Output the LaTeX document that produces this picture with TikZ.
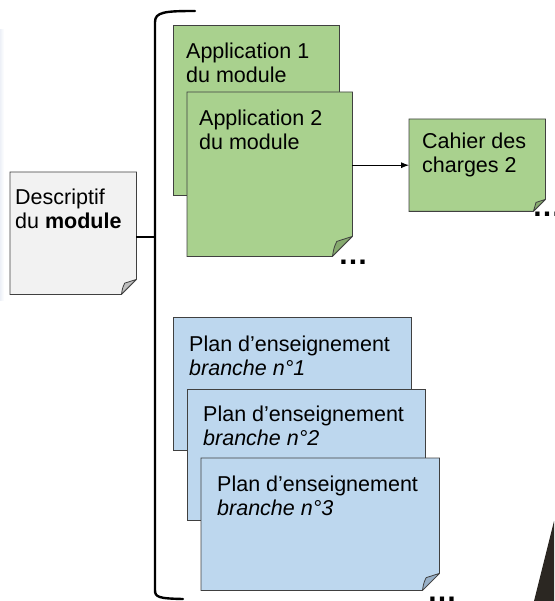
\documentclass[tikz,border=0pt]{standalone}
\usepackage{fontspec}
\setmainfont{Liberation Sans}
\usetikzlibrary{arrows.meta,calc}
\definecolor{edge}{HTML}{404040}
\definecolor{pgreen}{HTML}{A9D18E}
\definecolor{pgreenD}{HTML}{86AA6E}
\definecolor{pblue}{HTML}{BDD7EE}
\definecolor{pblueD}{HTML}{98B0C8}
\definecolor{pgray}{HTML}{F2F2F2}
\definecolor{pgrayD}{HTML}{BFBFBF}
\definecolor{darkcorner}{HTML}{2B2722}
\definecolor{edgeglow}{HTML}{EDF0F7}
\tikzset{
  sheet/.style={draw=edge, line width=0.8pt, inner sep=0pt, anchor=north west},
  ghost/.style={inner sep=0pt, anchor=north west},
  txt/.style={font=\fontsize{21.5}{24}\selectfont, align=left, inner sep=0pt, anchor=base west, text=black},
  dotsstyle/.style={font=\bfseries\fontsize{30}{30}\selectfont, inner sep=0pt, text=black},
  bracketline/.style={line width=2.4pt, black, line cap=round},
  linkline/.style={line width=2pt, black},
  arrowline/.style={line width=0.8pt, black, -{Latex[length=8pt,width=6pt]}}
}
\newcommand\foldsheet[4]{%
  \filldraw[draw=edge, line width=0.8pt, fill=#2] (#1.north west) -- (#1.north east) -- ([yshift=#4]#1.south east) -- ([xshift=-#4]#1.south east) -- (#1.south west) -- cycle;
  \filldraw[draw=edge, line width=0.8pt, fill=#3, line join=round] ([xshift=-#4]#1.south east) .. controls ([xshift=-0.92*#4, yshift=0.45*#4]#1.south east) .. ([xshift=-0.78*#4,yshift=0.75*#4]#1.south east) -- ([yshift=#4]#1.south east) -- cycle;
}
\begin{document}
\begin{tikzpicture}[x=1pt,y=-1pt]
\useasboundingbox (0,0) rectangle (554,601);
\shade[left color=edgeglow, right color=white] (0,30) rectangle (4,300);
\fill[darkcorner] (554,521) -- (554,601) -- (534,601) -- cycle;

% bracket
\coordinate (brk) at (155,237);
\draw[bracketline] (195,11) .. controls (165,11) and (155,12) .. (155,22) -- (155,590) .. controls (155,597) and (158,598.5) .. (183,599);

% descriptif
\node[ghost, minimum width=126pt, minimum height=122pt] (desc) at (10,172) {};
\foldsheet{desc}{pgray}{pgrayD}{15pt}
\node[txt] (desct) at (15,229) {Descriptif\\du \textbf{module}};
\draw[linkline] (desc.east |- brk) -- (brk);

% applications
\node[sheet, fill=pgreen, minimum width=166pt, minimum height=170pt] (app1) at (173,25) {};
\node[txt] (app1t) at (186,83) {Application 1\\du module};
\node[ghost, minimum width=165pt, minimum height=164pt] (app2) at (187,92) {};
\foldsheet{app2}{pgreen}{pgreenD}{20pt}
\node[txt] (app2t) at (199,150) {Application 2\\du module};
\node[dotsstyle] (dots1) at (353,262) {…};

% cahier
\node[ghost, minimum width=136pt, minimum height=92pt] (cahier) at (409,119) {};
\foldsheet{cahier}{pgreen}{pgreenD}{12pt}
\node[txt] (cahiert) at (422,172.5) {Cahier des\\charges 2};
\node[dotsstyle] (dots2) at (547,214) {…};
\draw[arrowline] (app2.east |- cahier.west) -- (cahier.west);

% plans
\node[sheet, fill=pblue, minimum width=238pt, minimum height=133pt] (plan1) at (173,317) {};
\node[txt] (plan1t) at (189,375) {Plan d’enseignement\\\textit{branche n°1}};
\node[sheet, fill=pblue, minimum width=238pt, minimum height=131pt] (plan2) at (187,389) {};
\node[txt] (plan2t) at (203,445) {Plan d’enseignement\\\textit{branche n°2}};
\node[ghost, minimum width=238pt, minimum height=132pt] (plan3) at (201,458) {};
\foldsheet{plan3}{pblue}{pblueD}{17pt}
\node[txt] (plan3t) at (217,515) {Plan d’enseignement\\\textit{branche n°3}};
\node[dotsstyle] (dots3) at (442,599) {…};
\end{tikzpicture}
\end{document}
